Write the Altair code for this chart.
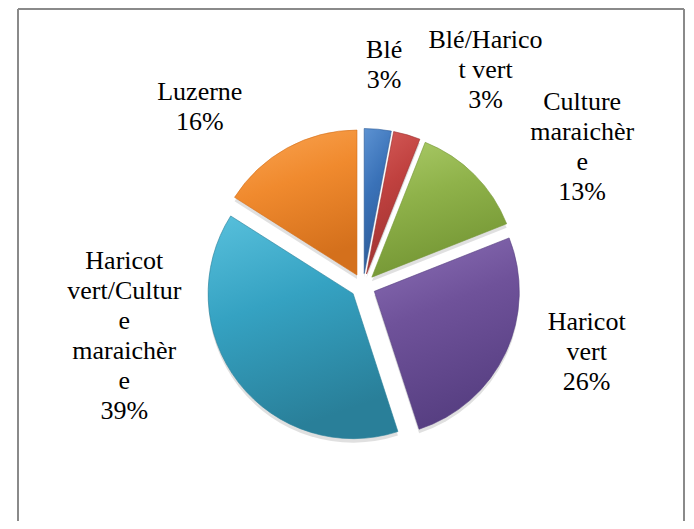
import altair as alt
import pandas as pd

# ---- data ----
categories = ["Blé", "Blé/Haricot vert", "Culture maraichère", "Haricot vert",
              "Haricot vert/Culture maraichère", "Luzerne"]
values = [3, 3, 13, 26, 39, 16]
# label text as wrapped in the original
label_names = ["Blé", "Blé/Harico\nt vert", "Culture\nmaraichèr\ne", "Haricot\nvert",
               "Haricot\nvert/Cultur\ne\nmaraichèr\ne", "Luzerne"]

# ---- style / layout ----
W, H = 678, 513
CX, CY = 355, 278          # pie centre
R = 145                    # pie radius
EXPLODE = 12.5             # slice explosion
R_LAB = 235                # label radius
LINE_H = 30
FONT = "Liberation Serif"
gradients = {
    "Blé": ("#5C92D2", "#3A72B8", "#2C5A97"),
    "Blé/Haricot vert": ("#D65E5B", "#C0413F", "#9C3230"),
    "Culture maraichère": ("#ABCB68", "#8FB24A", "#749634"),
    "Haricot vert": ("#8C70B7", "#6F529A", "#573F82"),
    "Haricot vert/Culture maraichère": ("#58C0DC", "#35A2C2", "#297F99"),
    "Luzerne": ("#FAA553", "#F08A2E", "#D4701C"),
}
label_nudge = {  # (dx, dy) tweak of each label from its ray position
    "Blé": (-1, 13), "Blé/Haricot vert": (57, 10), "Culture maraichère": (53, 27),
    "Haricot vert": (11, -34), "Haricot vert/Culture maraichère": (-53, -94),
    "Luzerne": (-50, 27),
}

df = pd.DataFrame({
    "idx": list(range(len(categories))),
    "cat": categories,
    "value": values,
    "name": label_names,
    "ndx": [label_nudge[c][0] for c in categories],
    "ndy": [label_nudge[c][1] for c in categories],
})

base = alt.Chart(df).transform_joinaggregate(
    total="sum(value)"
).transform_window(
    cum="sum(value)", sort=[alt.SortField("idx", order="ascending")], frame=[None, 0]
).transform_calculate(
    t1="2*PI*datum.cum/datum.total",
    t0="2*PI*(datum.cum-datum.value)/datum.total",
    label="datum.name + '\\n' + round(100*datum.value/datum.total) + '%'",
).transform_calculate(
    mid="(datum.t0+datum.t1)/2",
    nlines="length(split(datum.label, '\\n'))",
).transform_calculate(
    px=f"{CX}+{EXPLODE}*sin(datum.mid)",
    py=f"{CY}-{EXPLODE}*cos(datum.mid)",
    lx=f"{CX}+{R_LAB}*sin(datum.mid)+datum.ndx",
    ly=f"{CY}-{R_LAB}*cos(datum.mid)+datum.ndy-(datum.nlines-1)*{LINE_H}/2",
)

enc = dict(
    theta=alt.Theta("t0:Q", scale=None),
    theta2=alt.Theta2("t1:Q"),
    x=alt.X("px:Q", scale=None),
)

shadow = base.transform_calculate(sy="datum.py+4").mark_arc(
    radius=R, fill="#000000", opacity=0.12
).encode(y=alt.Y("sy:Q", scale=None), **enc)

slices = []
for c in categories:
    light, mid, dark = gradients[c]
    grad = alt.LinearGradient(
        gradient="linear", x1=0, y1=0, x2=0.3, y2=1,
        stops=[alt.GradientStop(color=light, offset=0),
               alt.GradientStop(color=mid, offset=0.45),
               alt.GradientStop(color=dark, offset=1)],
    )
    slices.append(
        base.transform_filter(alt.datum.cat == c).mark_arc(
            radius=R, fill=grad, stroke=dark, strokeWidth=0.6
        ).encode(y=alt.Y("py:Q", scale=None), **enc)
    )

labels = base.mark_text(
    font=FONT, fontSize=26, lineHeight=LINE_H, lineBreak="\n",
    align="center", baseline="middle", color="#000000",
).encode(
    x=alt.X("lx:Q", scale=None),
    y=alt.Y("ly:Q", scale=None),
    text="label:N",
)

one = alt.Data(values=[{"a": 1}])
border_color = "#8a8a8a"
left = alt.Chart(one).mark_rule(color=border_color, strokeWidth=2).encode(
    x=alt.value(10), y=alt.value(1), y2=alt.value(H))
top = alt.Chart(one).mark_rule(color=border_color, strokeWidth=2).encode(
    x=alt.value(10), x2=alt.value(676), y=alt.value(1))
right = alt.Chart(one).mark_rule(color=border_color, strokeWidth=2).encode(
    x=alt.value(676), y=alt.value(1), y2=alt.value(H))

chart = alt.layer(shadow, *slices, labels, left, top, right).properties(
    width=W, height=H, padding=0, autosize=alt.AutoSizeParams(type="none"),
    background="white",
).configure_view(stroke=None)

chart.save("out.html", embed_options={"renderer": "svg", "actions": False})
